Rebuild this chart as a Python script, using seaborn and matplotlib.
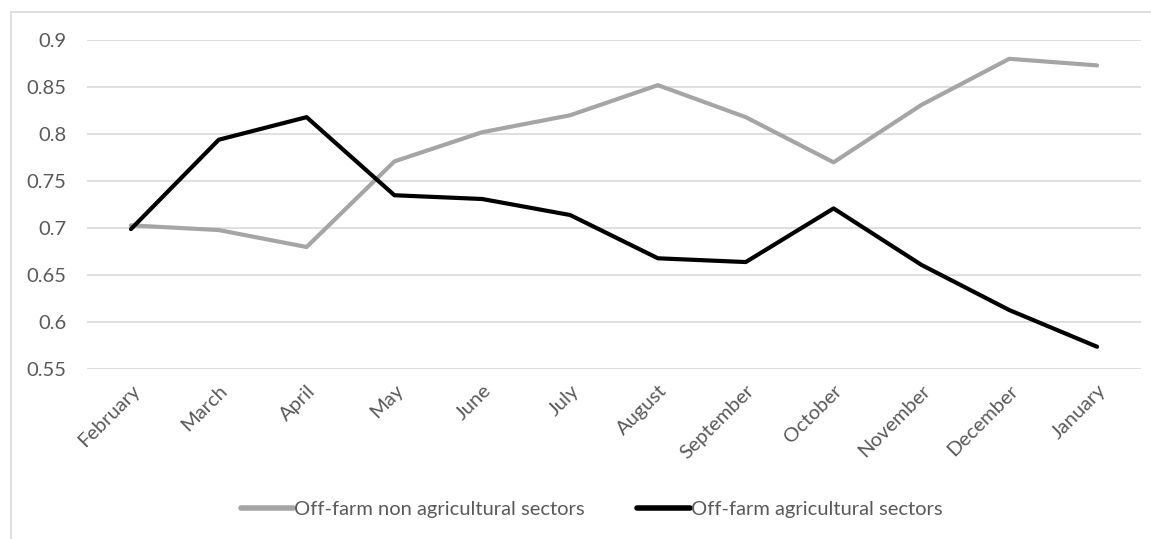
import matplotlib
matplotlib.use("Agg")
import matplotlib.pyplot as plt
import seaborn as sns
import pandas as pd
from matplotlib.lines import Line2D

months = ["February", "March", "April", "May", "June", "July", "August",
          "September", "October", "November", "December", "January"]
non_agri = [0.703, 0.698, 0.680, 0.771, 0.802, 0.820, 0.852, 0.818, 0.770, 0.831, 0.880, 0.873]
agri = [0.699, 0.794, 0.818, 0.735, 0.731, 0.714, 0.668, 0.664, 0.721, 0.661, 0.613, 0.574]
series_names = ["Off-farm non agricultural sectors", "Off-farm agricultural sectors"]
yticks = [0.55, 0.6, 0.65, 0.7, 0.75, 0.8, 0.85, 0.9]
ytick_labels = ["0.55", "0.6", "0.65", "0.7", "0.75", "0.8", "0.85", "0.9"]

df = pd.DataFrame({
    "month": months * 2,
    "value": non_agri + agri,
    "series": [series_names[0]] * len(months) + [series_names[1]] * len(months),
})

sns.set_theme(style="white")
plt.rcParams["font.family"] = ["Lato", "DejaVu Sans"]

fig = plt.figure(figsize=(11.51, 5.39), dpi=100)
ax = fig.add_axes([0.0756, 0.3148, 0.9157, 0.611])

palette = {series_names[0]: "#a5a5a5", series_names[1]: "#000000"}
sns.lineplot(data=df, x="month", y="value", hue="series", palette=palette,
             sort=False, linewidth=3.0, ax=ax, legend=False)

ax.set_xlim(-0.5, len(months) - 0.5)
ax.set_ylim(0.55, 0.9)
ax.set_yticks(yticks)
ax.set_yticklabels(ytick_labels)
ax.set_xticks(range(len(months)))
ax.set_xticklabels(months, rotation=45, ha="right", rotation_mode="anchor")
ax.tick_params(axis="both", colors="#595959", labelsize=14.5, length=0)
ax.tick_params(axis="x", pad=9)
ax.tick_params(axis="y", pad=15)
ax.set_xlabel("")
ax.set_ylabel("")
for s in ax.spines.values():
    s.set_visible(False)
ax.grid(axis="y", color="#d9d9d9", linewidth=1.2)
ax.set_axisbelow(True)

handles = [Line2D([], [], color=palette[n], linewidth=4) for n in series_names]
fig.legend(handles, series_names, loc="center", bbox_to_anchor=(0.514, 0.054),
           ncol=2, frameon=False, fontsize=14.5, handlelength=2.6,
           handletextpad=0.05, columnspacing=2.6, labelcolor="#595959")

# chart border (left and top visible)
fig.add_artist(Line2D([11 / 1151, 11 / 1151], [1 - 12 / 539, 0], color="#d9d9d9",
                      linewidth=1.2, transform=fig.transFigure))
fig.add_artist(Line2D([11 / 1151, 1], [1 - 12 / 539, 1 - 12 / 539], color="#d9d9d9",
                      linewidth=1.2, transform=fig.transFigure))

fig.savefig("out.png", dpi=100, facecolor="white")
